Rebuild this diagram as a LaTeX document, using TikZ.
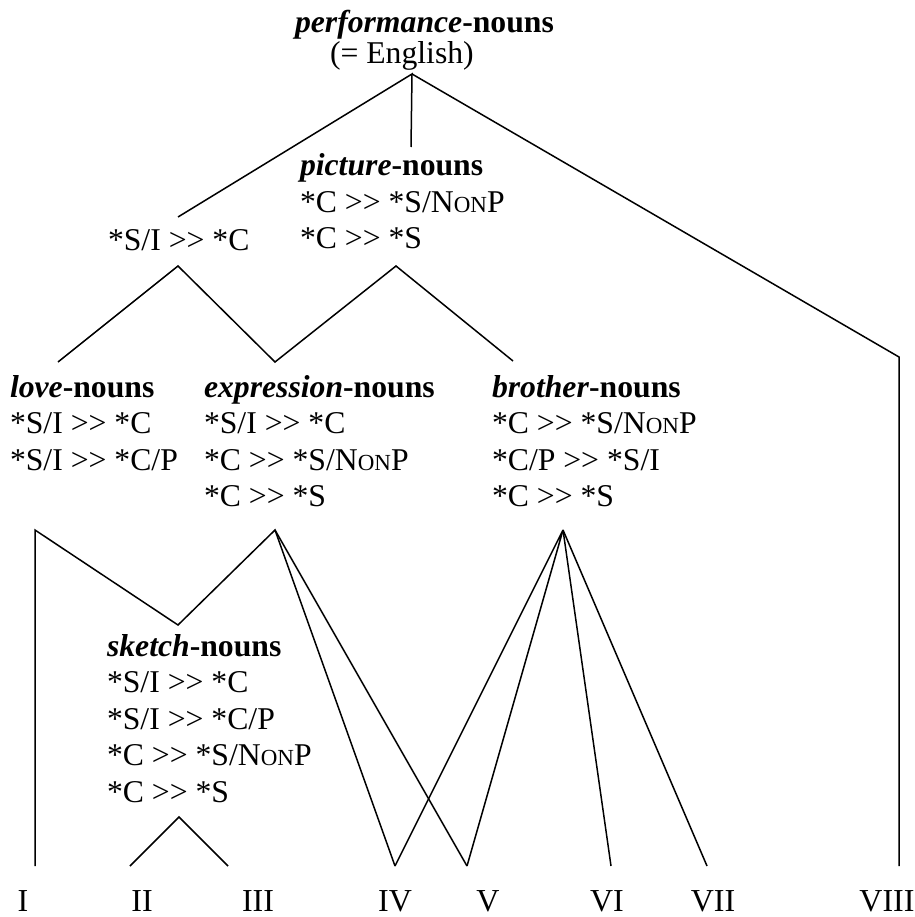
\documentclass[tikz,border=0pt]{standalone}
\usepackage{fontspec}
\setmainfont{Liberation Serif}
\newcommand\nonp{N{\fontsize{23}{23}\selectfont ON}P}
\newcommand\ggs{>\kern0pt>}
\newcommand\ttl[1]{\textbf{\textit{#1}-nouns}}
\newcommand\nl{\\\relax}
\tikzset{
  txt/.style={anchor=base west, inner sep=0pt, outer sep=0pt, font=\fontsize{31.7}{36.5}\selectfont},
  lab/.style={anchor=base, inner sep=0pt, outer sep=0pt, font=\fontsize{32}{36.5}\selectfont},
  edge/.style={line width=1.5pt, line join=miter}
}
\newcommand\blk[1]{\begin{tabular}[t]{@{}l@{}}#1\end{tabular}}
\begin{document}
\begin{tikzpicture}[x=1pt,y=-1pt]
\useasboundingbox (0,0) rectangle (914,917);
% text blocks
\node[txt] (perf) at (295,33) {\ttl{performance}};
\node[txt] (eng) at (330,64) {(= English)};
\node[txt] (sic) at (108,250) {*S/I \ggs{} *C};
\node[txt] (pic) at (300,176) {\blk{\ttl{picture}\nl *C \ggs{} *S/\nonp\nl *C \ggs{} *S}};
\node[txt] (love) at (10,397) {\blk{\ttl{love}\nl *S/I \ggs{} *C\nl *S/I \ggs{} *C/P}};
\node[txt] (expr) at (204,397) {\blk{\ttl{expression}\nl *S/I \ggs{} *C\nl *C \ggs{} *S/\nonp\nl *C \ggs{} *S}};
\node[txt] (broth) at (492,397) {\blk{\ttl{brother}\nl *C \ggs{} *S/\nonp\nl *C/P \ggs{} *S/I\nl *C \ggs{} *S}};
\node[txt] (sketch) at (107,656) {\blk{\ttl{sketch}\nl *S/I \ggs{} *C\nl *S/I \ggs{} *C/P\nl *C \ggs{} *S/\nonp\nl *C \ggs{} *S}};
% leaf labels
\node[lab] (l1) at (23,911) {I};
\node[lab] (l2) at (142,911) {II};
\node[lab] (l3) at (258,911) {III};
\node[lab] (l4) at (395,911) {IV};
\node[lab] (l5) at (488,911) {V};
\node[lab] (l6) at (607,911) {VI};
\node[lab] (l7) at (713,911) {VII};
\node[lab] (l8) at (887,911) {VIII};
% junction coordinates
\coordinate (perfB) at (412,74);
\coordinate (sicT) at (178,217);
\coordinate (picT) at (411,147);
\coordinate (corner) at (899,357);
\coordinate (sicB) at (178,266);
\coordinate (picB) at (396,266);
\coordinate (loveT) at (58,362);
\coordinate (exprT) at (275,362);
\coordinate (brothT) at (513,361);
\coordinate (loveB) at (35,530);
\coordinate (exprB) at (275,530);
\coordinate (brothB) at (563,530);
\coordinate (sketchT) at (178,625);
\coordinate (sketchB) at (179,817);
\coordinate (e1) at (35,866);
\coordinate (e2) at (130,866);
\coordinate (e3) at (228,866);
\coordinate (e4) at (395,866);
\coordinate (e5) at (467,866);
\coordinate (e6) at (611,866);
\coordinate (e7) at (707,866);
\coordinate (e8) at (899,866);
% connectors
\draw[edge] (sicT) -- (perfB) -- (picT);
\draw[edge] (perfB) -- (corner) -- (e8);
\draw[edge] (loveT) -- (sicB) -- (exprT) -- (picB) -- (brothT);
\draw[edge] (e1) -- (loveB) -- (sketchT) -- (exprB) -- (e4);
\draw[edge] (exprB) -- (e5);
\draw[edge] (e2) -- (sketchB) -- (e3);
\draw[edge] (e4) -- (brothB) -- (e5);
\draw[edge] (brothB) -- (e6);
\draw[edge] (brothB) -- (e7);
\end{tikzpicture}
\end{document}
